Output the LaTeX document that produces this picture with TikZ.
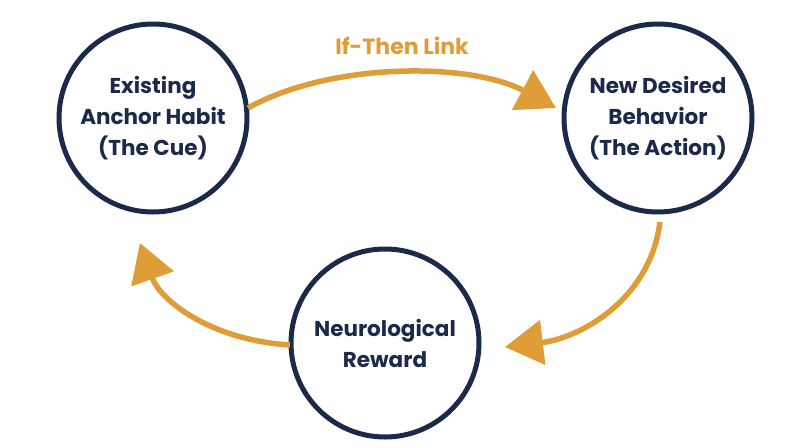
\documentclass[tikz,border=0pt]{standalone}
\usepackage{fontspec}
\setmainfont{Poppins}
\usetikzlibrary{arrows.meta}
\definecolor{navy}{HTML}{1B2A4A}
\definecolor{gold}{HTML}{DE9D36}
\begin{document}
\begin{tikzpicture}[x=1pt,y=-1pt,
  circ/.style={circle,draw=navy,line width=5pt,minimum size=188pt,inner sep=0pt,text=navy,font=\bfseries\fontsize{21.5}{31}\selectfont,align=center},
  link/.style={draw=gold,line width=5.5pt,-{Triangle[length=38pt,width=44pt]}}]
\useasboundingbox (0,0) rectangle (800,447);
\node[circ] (a) at (153,118) {Existing\\Anchor Habit\\(The Cue)};
\node[circ] (b) at (658,118) {New Desired\\Behavior\\(The Action)};
\node[circ] (c) at (385,343) {Neurological\\Reward};
\coordinate (a1) at (248,108); \coordinate (b1) at (556,108);
\coordinate (b2) at (660,222); \coordinate (c1) at (505,347);
\coordinate (c2) at (290,345); \coordinate (a2) at (140,243);
\draw[link] (a1) .. controls (330,62) and (470,62) .. (b1);
\draw[link] (b2) .. controls (650,300) and (580,338) .. (c1);
\draw[link] (c2) .. controls (210,340) and (160,300) .. (a2);
\node[text=gold,font=\bfseries\fontsize{22}{26}\selectfont] (t) at (402,46) {If-Then Link};
\end{tikzpicture}
\end{document}
